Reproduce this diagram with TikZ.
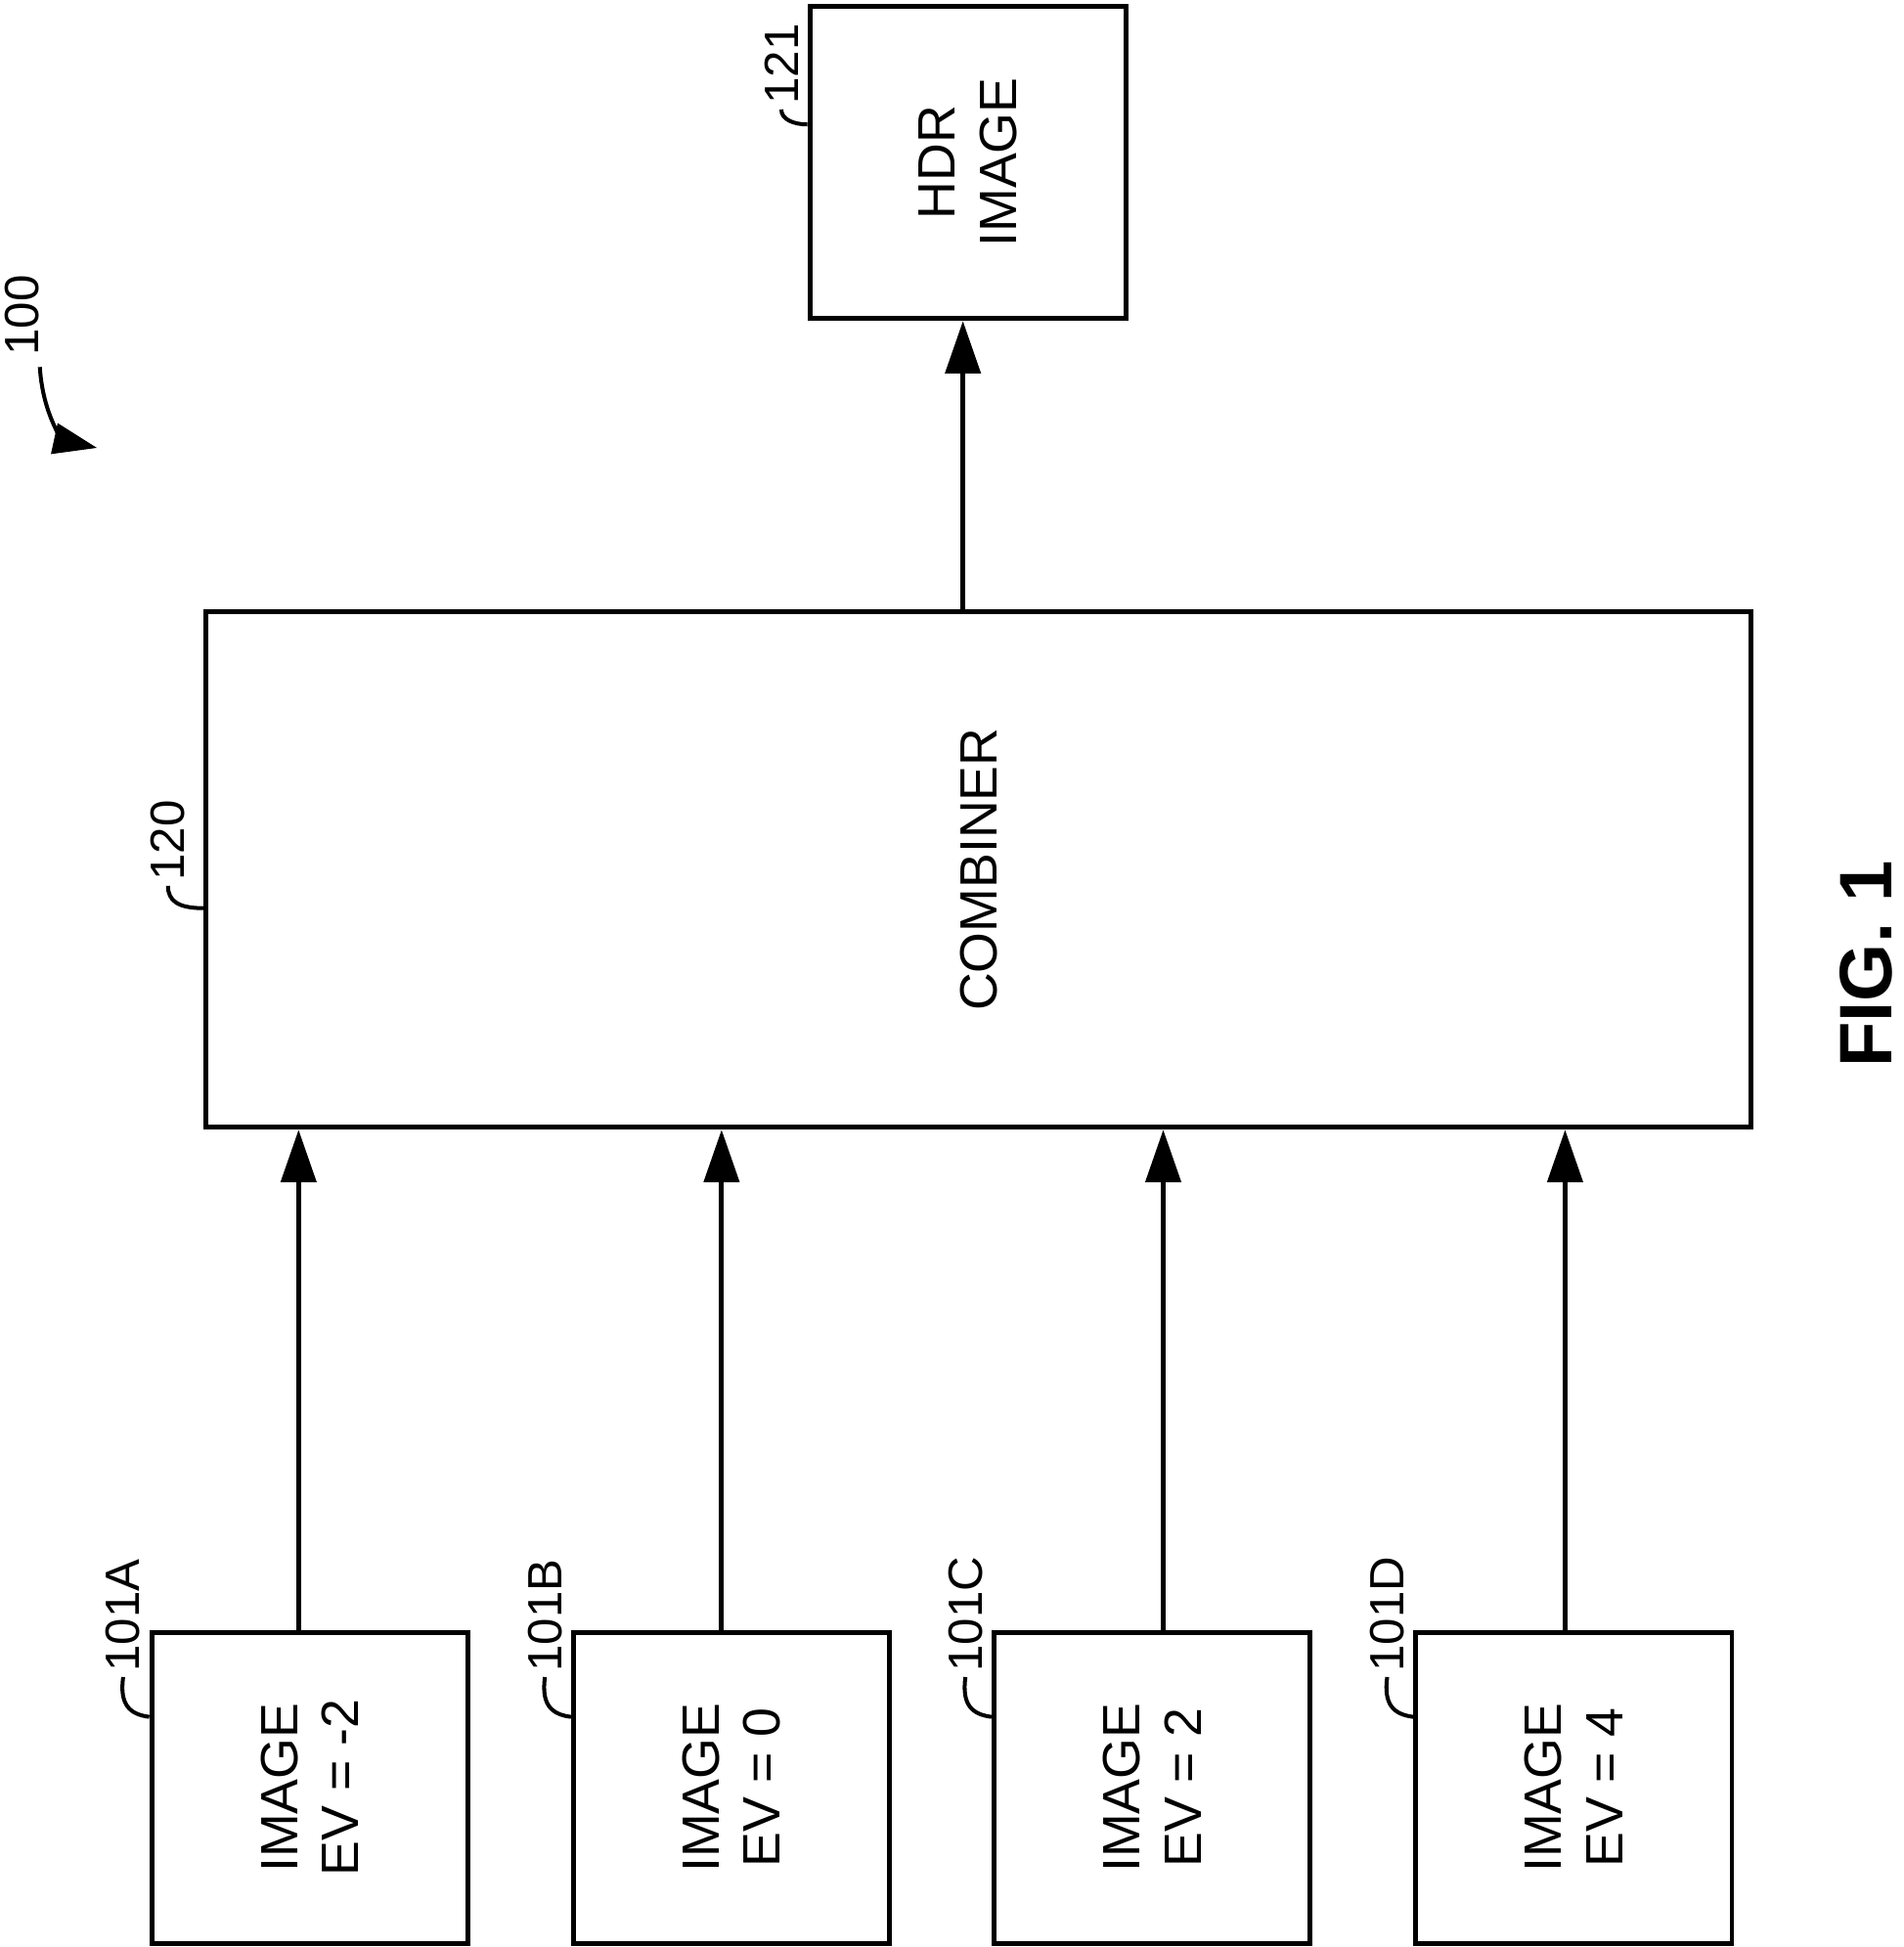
\documentclass[tikz,border=0pt]{standalone}
\usepackage{fontspec}
\setmainfont{Liberation Sans}
\usetikzlibrary{arrows.meta}

\begin{document}
\begin{tikzpicture}[x=0.01cm,y=-0.01cm,
  box/.style={draw,line width=1.1pt,inner sep=0pt},
  txt/.style={rotate=90,align=center,font=\fontsize{12}{14}\selectfont},
  ref/.style={rotate=90,anchor=west,inner sep=1pt,font=\fontsize{11}{13}\selectfont},
  lead/.style={line width=0.9pt},
  flow/.style={line width=1.1pt,-{Triangle[length=12pt,width=8pt]}}]
\useasboundingbox (0,0) rectangle (1530,1565);

% output and combiner
\node[box,minimum width=2.54cm,minimum height=2.51cm] (hdr) at (778,130.5) {};
\node[txt] (hdrtxt) at (hdr) {HDR\\IMAGE};
\node[box,minimum width=12.41cm,minimum height=4.14cm] (comb) at (786.5,699) {};
\node[txt] (combtxt) at (comb) {COMBINER};
\draw[flow] (comb.north -| 774,0) -- (hdr.south -| 774,0);

% input images
\foreach \n/\x/\ax/\ev in {A/249/240/-2,B/588/580/0,C/926/935/2,D/1265/1258/4}{
  \node[box,minimum width=2.54cm,minimum height=2.5cm] (img\n) at (\x,1437) {};
  \node[txt] (imgtxt\n) at (img\n) {IMAGE\\EV = \ev};
  \draw[flow] (img\n.north -| \ax,0) -- (comb.south -| \ax,0);
  \node[ref] (ref\n) at (\x-150,1348) {101\n};
  \draw[lead] (img\n.north west |- 0,1380) .. controls (\x-145,1378) and (\x-153,1370) .. (ref\n.west);
}

% reference labels
\node[ref] (ref121) at (628,88) {121};
\draw[lead] (hdr.west |- 0,100) .. controls (638,100) and (628,96) .. (ref121.west);
\node[ref] (ref120) at (135,712) {120};
\draw[lead] (comb.west |- 0,730) .. controls (143,730) and (135,724) .. (ref120.west);
\node[ref] (ref100) at (18,290) {100};
\coordinate (tip100) at (78,360);
\draw[lead,-{Triangle[length=10pt,width=7pt]}] (ref100.west) ++(14,5) .. controls (35,340) and (55,355) .. (tip100);

\node[rotate=90,font=\fontsize{17}{19}\selectfont\bfseries] (fig) at (1500,775) {FIG. 1};
\end{tikzpicture}
\end{document}
